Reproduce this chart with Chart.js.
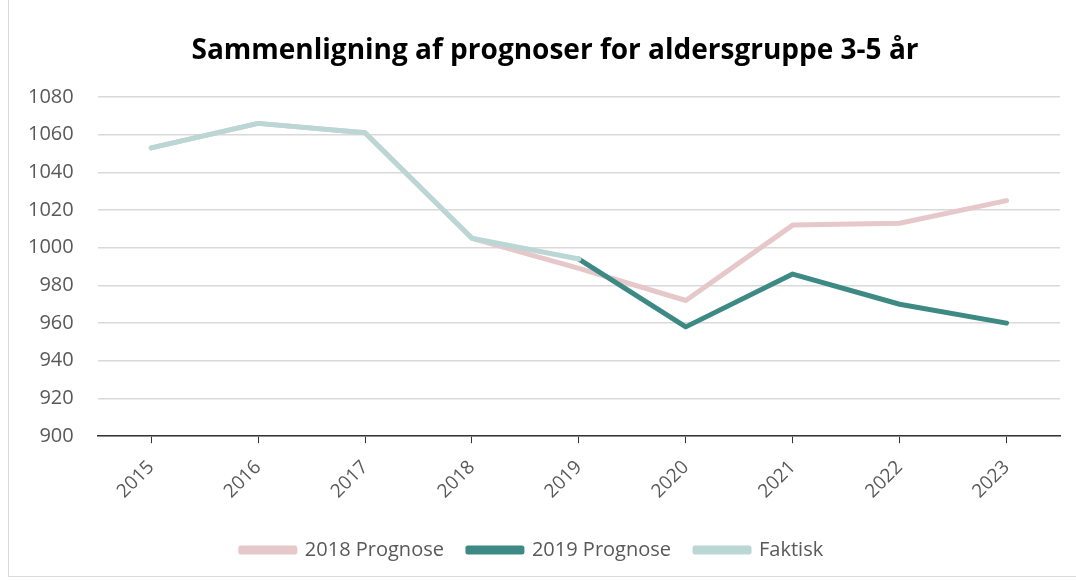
<!DOCTYPE html>
<html>
<head>
<meta charset="utf-8">
<script src="https://cdn.jsdelivr.net/npm/chart.js@4"></script>
<style>
  body { margin: 0; background: #fff; }
  #wrap { position: absolute; left: 8px; top: -1px; width: 1070px; height: 578px; border: 1px solid #d9d9d9; box-sizing: border-box; }
  #myChart { position: absolute; left: 0; top: 0; }
  #title { position: absolute; left: 0; width: 1110px; top: 28px; text-align: center;
           font: bold 28px 'Open Sans', 'Noto Sans', sans-serif; color: #000; line-height: 40px; }
</style>
</head>
<body>
<div id="wrap"></div>
<canvas id="myChart" width="1076" height="580"></canvas>
<div id="title">Sammenligning af prognoser for aldersgruppe 3-5 år</div>
<script>
var years = ["2015", "2016", "2017", "2018", "2019", "2020", "2021", "2022", "2023"];
var prognose2018 = [1053, 1066, 1061, 1005, 989, 972, 1012, 1013, 1025];
var prognose2019 = [null, null, null, null, 994, 958, 986, 970, 960];
var faktisk = [1053, 1066, 1061, 1005, 994, null, null, null, null];
var yTicks = [900, 920, 940, 960, 980, 1000, 1020, 1040, 1060, 1080];

var font = "'Open Sans', 'Noto Sans', sans-serif";
var ctx = document.getElementById("myChart").getContext("2d");

function line(label, data, color, order) {
  return {
    label: label,
    data: data,
    borderColor: color,
    backgroundColor: color,
    borderWidth: 5,
    borderCapStyle: "round",
    borderJoinStyle: "round",
    pointRadius: 0,
    pointHoverRadius: 0,
    tension: 0,
    spanGaps: false,
    order: order
  };
}

var chart = new Chart(ctx, {
  type: "line",
  data: {
    labels: years,
    datasets: [
      line("2018 Prognose", prognose2018, "#e6c8ca", 3),
      line("2019 Prognose", prognose2019, "#3d8a84", 2),
      line("Faktisk", faktisk, "#bad7d5", 1)
    ]
  },
  options: {
    responsive: false,
    animation: false,
    layout: { padding: { left: 4, right: 16, top: 97, bottom: 10 } },
    plugins: {
      title: { display: false },
      legend: {
        position: "bottom",
        labels: {
          boxWidth: 54,
          boxHeight: 4,
          padding: 24,
          color: "#595959",
          font: { family: font, size: 20 },
          sort: function (a, b) { return a.datasetIndex - b.datasetIndex; }
        }
      },
      tooltip: { enabled: false }
    },
    scales: {
      x: {
        offset: true,
        grid: {
          offset: false,
          drawOnChartArea: false,
          drawTicks: true,
          tickLength: 7,
          color: "#333"
        },
        border: { color: "#333", width: 1.5 },
        ticks: {
          color: "#595959",
          font: { family: font, size: 19 },
          minRotation: 45,
          maxRotation: 45,
          padding: 13
        }
      },
      y: {
        min: 900,
        max: 1080,
        afterBuildTicks: function (axis) {
          axis.ticks = yTicks.map(function (v) { return { value: v }; });
        },
        grid: {
          color: "#d9d9d9",
          lineWidth: 1.5,
          drawTicks: false
        },
        border: { display: false },
        ticks: {
          color: "#595959",
          font: { family: font, size: 20 },
          padding: 24,
          callback: function (v) { return String(v); }
        }
      }
    }
  }
});
</script>
</body>
</html>
